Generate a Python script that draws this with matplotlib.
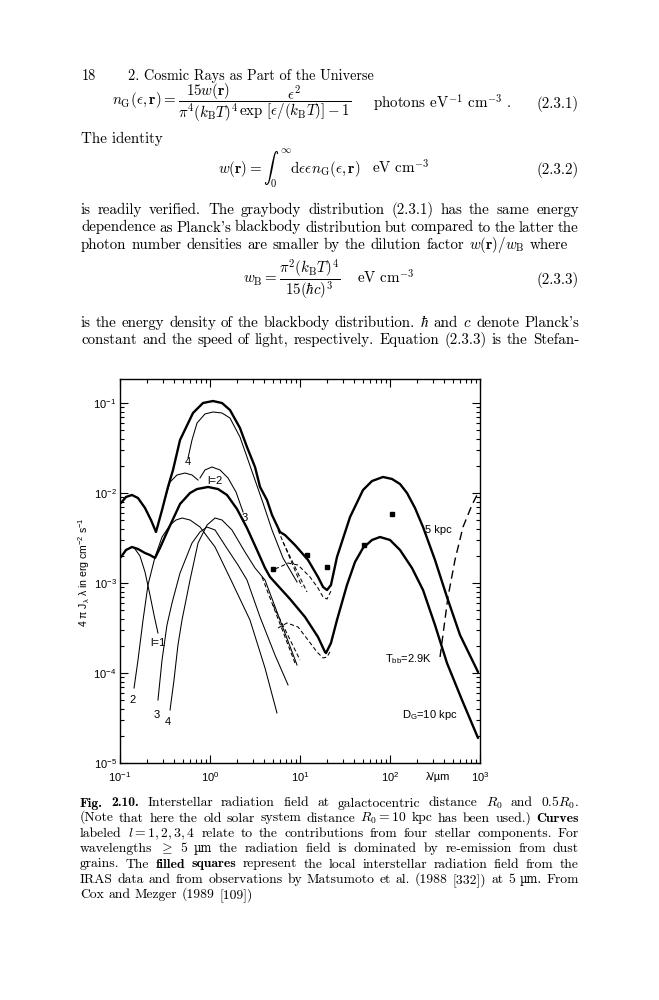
import numpy as np
import matplotlib
matplotlib.use('Agg')
import matplotlib.pyplot as plt
from matplotlib.ticker import NullFormatter, LogLocator

plt.rcParams['font.family'] = ['Liberation Sans', 'DejaVu Sans']
plt.rcParams['mathtext.fontset'] = 'custom'
plt.rcParams['mathtext.rm'] = 'Liberation Sans'
plt.rcParams['mathtext.it'] = 'Liberation Sans:italic'
plt.rcParams['mathtext.bf'] = 'Liberation Sans:bold'

# ---------------- data (log10 wavelength [um], log10 4 pi J_lambda lambda [erg cm^-2 s^-1]) ----
tot5_loglam = [-0.989, -0.933, -0.867, -0.800, -0.722, -0.656, -0.600, -0.533, -0.467, -0.411,
               -0.333, -0.189, -0.078, 0.033, 0.133, 0.222, 0.333, 0.411, 0.500, 0.556,
               0.633, 0.689, 0.778, 0.833, 0.944, 1.089, 1.200, 1.256, 1.300, 1.344,
               1.411, 1.556, 1.700, 1.800, 1.922, 2.022, 2.111, 2.189, 2.278, 2.367,
               2.500, 2.633, 2.778, 2.978]
tot5_logJ = [-2.111, -2.044, -2.022, -2.056, -2.167, -2.300, -2.433, -2.189, -1.933, -1.744,
             -1.411, -1.111, -1.000, -0.978, -1.000, -1.078, -1.278, -1.489, -1.711, -1.933,
             -2.078, -2.244, -2.433, -2.467, -2.578, -2.744, -2.933, -3.044, -3.078, -3.022,
             -2.711, -2.267, -1.967, -1.867, -1.822, -1.844, -1.900, -2.000, -2.167, -2.378,
             -2.744, -3.156, -3.578, -3.989]

tot10_loglam = [-0.989, -0.933, -0.867, -0.800, -0.722, -0.667, -0.611, -0.556, -0.467, -0.333,
                -0.222, -0.144, -0.022, 0.089, 0.189, 0.300, 0.411, 0.522, 0.611, 0.667,
                0.778, 0.889, 1.056, 1.200, 1.278, 1.289, 1.344, 1.411, 1.522, 1.611,
                1.700, 1.800, 1.889, 2.000, 2.111, 2.244, 2.367, 2.500, 2.633, 2.800, 2.978]
tot10_logJ = [-2.711, -2.633, -2.600, -2.622, -2.667, -2.689, -2.722, -2.611, -2.411, -2.122,
              -2.000, -1.956, -1.933, -1.956, -2.022, -2.178, -2.389, -2.633, -2.833, -2.933,
              -3.056, -3.178, -3.378, -3.600, -3.767, -3.778, -3.667, -3.411, -3.022, -2.767,
              -2.611, -2.522, -2.489, -2.522, -2.633, -2.833, -3.078, -3.467, -3.889, -4.300, -4.722]

# stellar components, R = 5 kpc
c5_2_loglam = [-0.511, -0.444, -0.367, -0.278, -0.200, -0.133]
c5_2_logJ = [-2.100, -1.878, -1.800, -1.778, -1.800, -1.856]
c5_3_loglam = [-0.111, -0.056, 0.022, 0.111, 0.200, 0.289, 0.367]
c5_3_logJ = [-1.833, -1.744, -1.711, -1.744, -1.833, -1.989, -2.211]
c5_4_loglam = [-0.244, -0.200, -0.144, -0.056, 0.033, 0.133, 0.222, 0.333, 0.411, 0.500,
               0.589, 0.689, 0.811, 0.967]
c5_4_logJ = [-1.611, -1.411, -1.222, -1.122, -1.100, -1.111, -1.167, -1.378, -1.600, -1.856,
             -2.111, -2.411, -2.722, -2.989]

# stellar components, R = 10 kpc
c10_1_loglam = [-0.833, -0.778, -0.722, -0.667, -0.622, -0.578]
c10_1_logJ = [-2.622, -2.700, -2.878, -3.133, -3.356, -3.556]
c10_2_loglam = [-0.844, -0.800, -0.744, -0.689, -0.611, -0.533, -0.444, -0.378, -0.311, -0.222,
                -0.111, 0.056, 0.233, 0.444, 0.611, 0.744]
c10_2_logJ = [-4.167, -3.856, -3.411, -3.022, -2.711, -2.489, -2.356, -2.300, -2.278, -2.300,
              -2.378, -2.600, -2.967, -3.411, -3.944, -4.444]
c10_3_loglam = [-0.578, -0.533, -0.478, -0.422, -0.333, -0.200, -0.111, -0.033, 0.056, 0.200,
                0.311, 0.411, 0.556, 0.722, 0.867]
c10_3_logJ = [-4.300, -3.856, -3.467, -3.222, -2.889, -2.556, -2.433, -2.378, -2.411, -2.633,
              -2.800, -2.967, -3.378, -3.800, -4.133]
c10_4_loglam = [-0.444, -0.400, -0.356, -0.311, -0.222, -0.133, -0.033, 0.056, 0.133, 0.244,
                0.389, 0.500, 0.611, 0.778, 0.967]
c10_4_logJ = [-4.411, -4.078, -3.689, -3.411, -2.967, -2.556, -2.356, -2.278, -2.300, -2.411,
              -2.656, -2.833, -2.967, -3.411, -3.911]

# small-grain (dashed) contributions
d5_loglam = [0.722, 0.800, 0.867, 0.978, 1.111, 1.200, 1.256, 1.300, 1.344]
d5_logJ = [-2.844, -2.811, -2.778, -2.800, -2.933, -3.056, -3.156, -3.178, -3.089]
d5a_loglam = [0.756, 1.022]
d5a_logJ = [-2.411, -3.044]
d5b_loglam = [0.811, 1.078]
d5b_logJ = [-2.544, -3.100]
d10_loglam = [0.756, 0.856, 0.978, 1.089, 1.189, 1.256, 1.300, 1.344]
d10_logJ = [-3.500, -3.444, -3.489, -3.633, -3.767, -3.833, -3.822, -3.744]
d10a_loglam = [0.578, 0.944]
d10a_logJ = [-2.933, -3.889]
d10b_loglam = [0.700, 1.000]
d10b_logJ = [-3.244, -3.856]

# 2.9 K blackbody (dashed)
bb_loglam = [2.556, 2.644, 2.722, 2.811, 2.911, 2.967]
bb_logJ = [-3.822, -3.156, -2.744, -2.378, -2.133, -2.022]

# filled squares (local ISRF, IRAS + Matsumoto)
sq_loglam = [0.700, 1.078, 1.300, 1.711, 2.022]
sq_logJ = [-2.844, -2.689, -2.822, -2.578, -2.233]

xtick_vals = [0.1, 1, 10, 100, 1000]
xtick_labels = [r'$10^{-1}$', r'$10^{0}$', r'$10^{1}$', r'$10^{2}$', r'$10^{3}$']
ytick_vals = [1e-5, 1e-4, 1e-3, 1e-2, 1e-1]
ytick_labels = [r'$10^{-5}$', r'$10^{-4}$', r'$10^{-3}$', r'$10^{-2}$', r'$10^{-1}$']

# ---------------- figure ----------------
W, H = 659, 1000
fig = plt.figure(figsize=(W / 100, H / 100), dpi=100)
fig.patch.set_facecolor('white')

ax = fig.add_axes([120 / W, 1 - 763 / H, 360 / W, 384 / H])
ax.set_xscale('log')
ax.set_yscale('log')
ax.set_xlim(0.1, 1000)
ax.set_ylim(1e-5, 10 ** (-0.7333))


def P(lx, ly):
    return 10 ** np.array(lx), 10 ** np.array(ly)


thick = dict(color='black', lw=1.7, solid_capstyle='round', solid_joinstyle='round')
thin = dict(color='black', lw=0.75)
dash = dict(color='black', lw=0.75, ls=(0, (4, 2.5)))

ax.plot(*P(tot5_loglam, tot5_logJ), **thick)
ax.plot(*P(tot10_loglam, tot10_logJ), **thick)
for lx, ly in [(c5_2_loglam, c5_2_logJ), (c5_3_loglam, c5_3_logJ), (c5_4_loglam, c5_4_logJ),
               (c10_1_loglam, c10_1_logJ), (c10_2_loglam, c10_2_logJ),
               (c10_3_loglam, c10_3_logJ), (c10_4_loglam, c10_4_logJ)]:
    ax.plot(*P(lx, ly), **thin)
for lx, ly in [(d5_loglam, d5_logJ), (d5a_loglam, d5a_logJ), (d5b_loglam, d5b_logJ),
               (d10_loglam, d10_logJ), (d10a_loglam, d10a_logJ), (d10b_loglam, d10b_logJ)]:
    ax.plot(*P(lx, ly), **dash)
ax.plot(*P(bb_loglam, bb_logJ), color='black', lw=1.0, ls=(0, (6, 3.5)))
ax.plot(*P(sq_loglam, sq_logJ), ls='none', marker='s', ms=3.4, color='black')

ax.set_xticks(xtick_vals, xtick_labels)
ax.set_yticks(ytick_vals, ytick_labels)
ax.xaxis.set_minor_locator(LogLocator(base=10, subs=np.arange(2, 10)))
ax.yaxis.set_minor_locator(LogLocator(base=10, subs=np.arange(2, 10)))
ax.xaxis.set_minor_formatter(NullFormatter())
ax.yaxis.set_minor_formatter(NullFormatter())
ax.tick_params(which='both', direction='in', top=True, right=True, width=0.8, labelsize=8)
ax.tick_params(which='major', length=6)
ax.tick_params(which='minor', length=3)
ax.tick_params(axis='x', pad=5)
ax.tick_params(axis='y', pad=2.5)
for s in ax.spines.values():
    s.set_linewidth(1.0)

lab = dict(fontsize=8, ha='center', va='center')
ax.text(0.57, 0.0221, '4', **lab)
ax.text(1.14, 0.0136, 'l=2', **lab)
ax.text(2.45, 0.00527, '3', **lab)
ax.text(341, 0.00388, '5 kpc', **lab)
ax.text(88, 1.43e-4, r'T$_\mathrm{bb}$=2.9K', fontsize=8, ha='left', va='center')
ax.text(136, 3.41e-5, r'D$_\mathrm{G}$=10 kpc', fontsize=8, ha='left', va='center')
ax.text(0.264, 2.16e-4, 'l=1', **lab)
ax.text(0.139, 5.0e-5, '2', **lab)
ax.text(0.258, 3.41e-5, '3', **lab)
ax.text(0.341, 2.86e-5, '4', **lab)

fig.text(438 / W, 1 - 777 / H, 'λ/µm', fontsize=8, ha='center', va='center')
fig.text(84 / W, 1 - 572 / H, r'4 π J$_\mathrm{λ}$ λ in erg cm$^{-2}$ s$^{-1}$',
         rotation=90, fontsize=7.6, ha='center', va='center')

# ---------------- page text ----------------
renderer = fig.canvas.get_renderer()
ROMAN = ['cmr10', 'DejaVu Serif']
BOLD = ['cmb10', 'DejaVu Serif']
GREEK = ['DejaVu Serif']


def fam_of(tk):
    if tk.startswith('§'):
        return BOLD, tk[1:]
    if 'µ' in tk:
        return GREEK, tk
    return ROMAN, tk


def tw(s, fam, size):
    t = fig.text(0, 0, s, fontfamily=fam, fontsize=size, math_fontfamily='cm')
    w = t.get_window_extent(renderer).width
    t.remove()
    return w


def tokens(line, size):
    out = []
    for tk in line.split(' '):
        fam, s = fam_of(tk)
        sz = size * 0.85 if fam is GREEK else size
        out.append((s, fam, sz, tw(s, fam, sz)))
    return out


def natural_width(line, size):
    it = tokens(line, size)
    return sum(w for *_, w in it) + 0.333 * size * 100 / 72 * (len(it) - 1)


def text_line(line, yb, size, x0=81.0, x1=579.0, justify=True):
    it = tokens(line, size)
    total = sum(w for *_, w in it)
    if justify and len(it) > 1:
        gap = (x1 - x0 - total) / (len(it) - 1)
    else:
        gap = 0.333 * size * 100 / 72
    x = x0
    for s, fam, sz, w in it:
        fig.text(x / W, 1 - yb / H, s, fontfamily=fam, fontsize=sz, math_fontfamily='cm',
                 ha='left', va='baseline')
        x += w + gap


def put(x, yb, s, size, ha='left', va='baseline'):
    fig.text(x / W, 1 - yb / H, s, fontfamily=ROMAN, fontsize=size, math_fontfamily='cm',
             ha=ha, va=va)


L3 = r'photon number densities are smaller by the dilution factor $w(\mathbf{r})/w_\mathrm{B}$ where'
bsize = 10 * 489 / natural_width(L3, 10)
C7 = 'Cox and Mezger (1989 [109])'
csize = 9 * 173 / natural_width(C7, 9)

# header
put(82, 80, '18', bsize * 0.95)
put(128, 80, '2. Cosmic Rays as Part of the Universe', bsize * 0.95)

# eq 2.3.1
put(112, 103, r'$n_\mathrm{G}(\epsilon,\mathbf{r})=\dfrac{15w(\mathbf{r})}{\pi^4(k_\mathrm{B}T)^4}'
    r'\dfrac{\epsilon^2}{\exp\,[\epsilon/(k_\mathrm{B}T)]-1}$', bsize, va='center')
put(373, 108.5, r'photons eV$^{-1}$ cm$^{-3}$ .', bsize)
put(579, 108.5, '(2.3.1)', bsize, ha='right')

put(81, 143, 'The identity', bsize)

# eq 2.3.2
put(218, 173.5, r'$w(\mathbf{r})=\int_0^\infty\mathrm{d}\epsilon\epsilon n_\mathrm{G}(\epsilon,\mathbf{r})$', bsize)
put(372, 173.5, r'eV cm$^{-3}$', bsize)
put(579, 173.5, '(2.3.2)', bsize, ha='right')

text_line('is readily verified. The graybody distribution (2.3.1) has the same energy', 214, bsize)
text_line("dependence as Planck's blackbody distribution but compared to the latter the", 231.5, bsize)
text_line(L3, 249, bsize, justify=False)

# eq 2.3.3
put(243, 280, r'$w_\mathrm{B}=\dfrac{\pi^2(k_\mathrm{B}T)^4}{15(\hbar c)^3}$', bsize, va='center')
put(357, 284, r'eV cm$^{-3}$', bsize)
put(579, 284, '(2.3.3)', bsize, ha='right')

text_line(r"is the energy density of the blackbody distribution. $\hbar$ and $c$ denote Planck's", 327, bsize)
text_line('constant and the speed of light, respectively. Equation (2.3.3) is the Stefan-', 344, bsize)

# caption
cap = [
    r'§Fig. §2.10. Interstellar radiation field at galactocentric distance $R_0$ and $0.5R_0$.',
    r'(Note that here the old solar system distance $R_0=10$ kpc has been used.) §Curves',
    r'labeled $l=1,2,3,4$ relate to the contributions from four stellar components. For',
    r'wavelengths $\geq$ 5 µm the radiation field is dominated by re-emission from dust',
    r'grains. The §filled §squares represent the local interstellar radiation field from the',
    r'IRAS data and from observations by Matsumoto et al. (1988 [332]) at 5 µm. From',
]
cap_base = [806.5, 821.5, 837, 852, 867.5, 883]
for line, yb in zip(cap, cap_base):
    text_line(line, yb, csize, x0=80, x1=579)
text_line(C7, 898, csize, x0=80, justify=False)

fig.savefig('out.png', dpi=100, facecolor='white')
